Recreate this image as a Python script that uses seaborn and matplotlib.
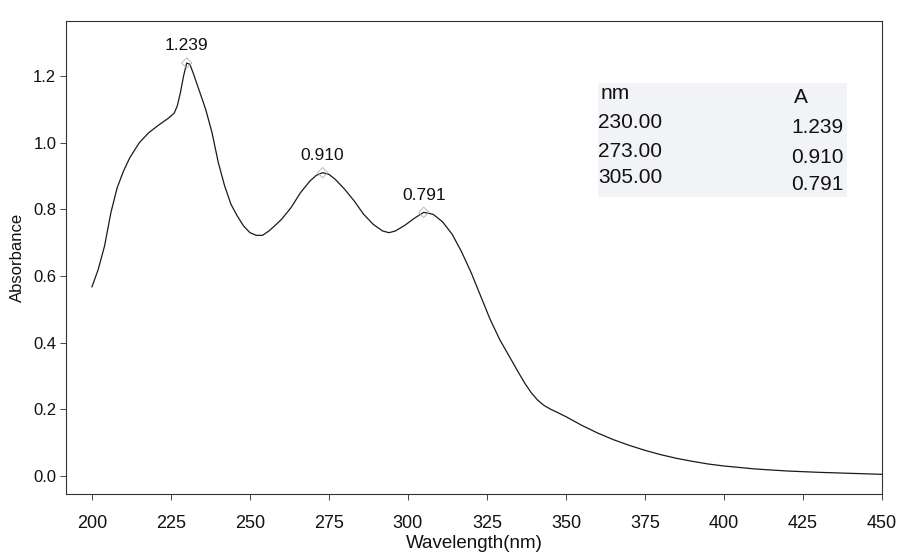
import matplotlib
matplotlib.use("Agg")
import matplotlib.pyplot as plt
import seaborn as sns
import pandas as pd

# UV-Vis absorption spectrum
wavelength = [200, 202, 204, 206, 208, 210, 212, 215, 218, 221, 224, 226, 227, 228, 229,
              230, 231, 232, 234, 236, 238, 240, 242, 244, 246, 248, 250, 252, 254, 256,
              258, 260, 263, 266, 269, 271, 273, 275, 277, 280, 283, 286, 289, 292, 294,
              296, 299, 302, 305, 308, 311, 314, 317, 320, 323, 326, 329, 332, 335, 337,
              339, 341, 343, 345, 347, 350, 355, 360, 365, 370, 375, 380, 385, 390, 395,
              400, 410, 420, 430, 440, 450]
absorbance = [0.567, 0.62, 0.69, 0.79, 0.865, 0.915, 0.955, 1.0, 1.03, 1.052, 1.072, 1.088,
              1.11, 1.15, 1.20, 1.239, 1.235, 1.21, 1.155, 1.10, 1.03, 0.94, 0.87, 0.815,
              0.78, 0.75, 0.73, 0.722, 0.722, 0.735, 0.752, 0.77, 0.805, 0.85, 0.885, 0.902,
              0.910, 0.905, 0.89, 0.86, 0.825, 0.785, 0.755, 0.735, 0.73, 0.735, 0.752, 0.773,
              0.791, 0.785, 0.762, 0.725, 0.672, 0.61, 0.54, 0.47, 0.41, 0.36, 0.31, 0.278,
              0.25, 0.228, 0.212, 0.201, 0.192, 0.178, 0.152, 0.129, 0.109, 0.092, 0.077,
              0.064, 0.053, 0.044, 0.036, 0.03, 0.021, 0.015, 0.011, 0.008, 0.005]

# Picked peaks
peak_nm = [230.00, 273.00, 305.00]
peak_abs = [1.239, 0.910, 0.791]

x_ticks = [200, 225, 250, 275, 300, 325, 350, 375, 400, 425, 450]
y_ticks = [0.0, 0.2, 0.4, 0.6, 0.8, 1.0, 1.2]

sns.set_theme(style="white")
plt.rcParams["font.family"] = ["Liberation Sans", "DejaVu Sans"]

df = pd.DataFrame({"Wavelength(nm)": wavelength, "Absorbance": absorbance})
peaks = pd.DataFrame({"nm": peak_nm, "A": peak_abs})

W, H = 898, 555
fig = plt.figure(figsize=(W / 100, H / 100), dpi=100)
left, right, top, bottom = 66, 882, 21, 494
ax = fig.add_axes([left / W, 1 - bottom / H, (right - left) / W, (bottom - top) / H])

sns.lineplot(data=df, x="Wavelength(nm)", y="Absorbance", ax=ax,
             color="#1a1a1a", linewidth=0.9)
sns.scatterplot(data=peaks, x="nm", y="A", ax=ax, marker="D", s=28,
                facecolor="none", edgecolor="#b0b0b0", linewidth=0.6, zorder=3)

for nm, a in zip(peak_nm, peak_abs):
    ax.annotate(f"{a:.3f}", (nm, a), xytext=(0, 7), textcoords="offset points",
                ha="center", va="bottom", fontsize=12.5, color="#111111")

ax.set_xlim(191.8, 450)
ax.set_ylim(-0.054, 1.365)
ax.set_xticks(x_ticks)
ax.set_yticks(y_ticks)
ax.set_yticklabels([f"{v:.1f}" for v in y_ticks])
ax.tick_params(axis="both", which="major", direction="out", length=4, width=0.7,
               color="#444444", labelcolor="#111111",
               bottom=True, left=True, top=False, right=False)
ax.tick_params(axis="x", labelsize=13, pad=11)
ax.tick_params(axis="y", labelsize=12, pad=3)
ax.set_xlabel("Wavelength(nm)", fontsize=13.5, color="#111111", labelpad=2)
ax.set_ylabel("Absorbance", fontsize=12, color="#111111", labelpad=6)
for side in ax.spines.values():
    side.set_visible(True)
    side.set_color("#333333")
    side.set_linewidth(0.8)

# Peak table
tbl = fig.add_axes([598 / W, 1 - 197 / H, 249 / W, 114 / H])
tbl.set_facecolor("#f1f3f6")
tbl.set_xticks([])
tbl.set_yticks([])
for side in tbl.spines.values():
    side.set_visible(False)
tbl.set_xlim(0, 1)
tbl.set_ylim(0, 1)
tbl.text(0.012, 0.91, "nm", ha="left", va="center", fontsize=15, color="#111111")
tbl.text(0.815, 0.87, "A", ha="center", va="center", fontsize=15, color="#111111")
left_rows = [0.65, 0.40, 0.17]
right_rows = [0.61, 0.35, 0.11]
for yl, yr, nm, a in zip(left_rows, right_rows, peak_nm, peak_abs):
    tbl.text(0.0, yl, f"{nm:.2f}", ha="left", va="center", fontsize=15, color="#111111")
    tbl.text(0.985, yr, f"{a:.3f}", ha="right", va="center", fontsize=15, color="#111111")

fig.savefig("out.png", dpi=100, facecolor="white")
